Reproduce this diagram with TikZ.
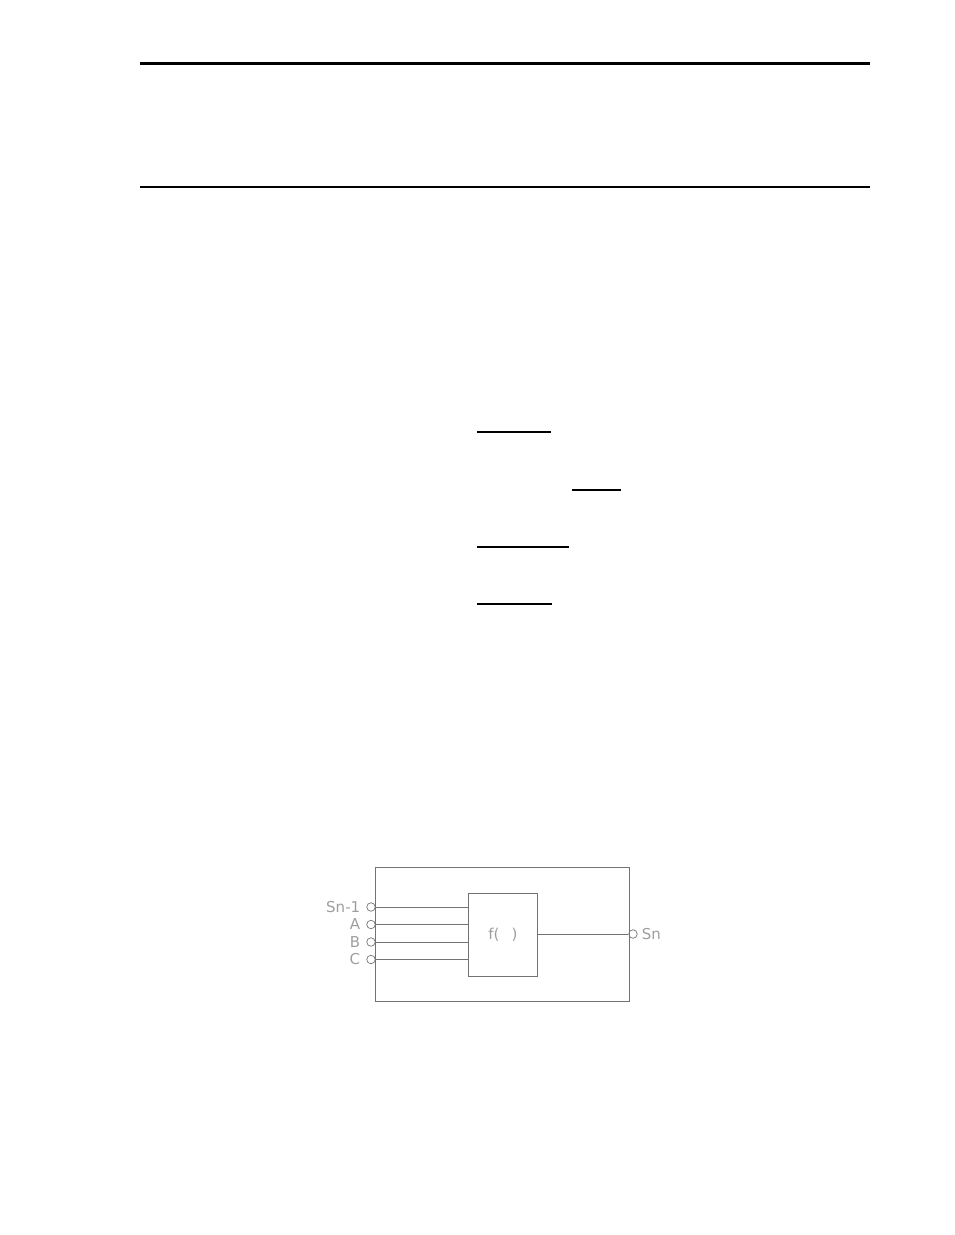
\documentclass[tikz,border=0pt]{standalone}
\usepackage{fontspec}
\setmainfont{DejaVu Sans}
\usetikzlibrary{positioning}
\definecolor{wiregray}{gray}{0.45}
\definecolor{textgray}{gray}{0.62}
\tikzset{
	pin/.style={circle,draw=wiregray,line width=0.7pt,inner sep=0pt,minimum size=8.5pt},
	wire/.style={draw=wiregray,line width=0.8pt},
	pinlabel/.style={textgray,font=\fontsize{15}{15}\selectfont,inner sep=0pt},
}
\begin{document}
\begin{tikzpicture}[x=1pt,y=-1pt]
	\useasboundingbox (0,0) rectangle (954,1235);
	% page rules
	\draw[line width=3pt] (140,63)--(870,63);
	\draw[line width=2.5pt] (140,187)--(870,187);
	\draw[line width=1.3pt] (477,432)--(551,432)
		(572,490)--(621,490)
		(477,547)--(569,547)
		(477,604)--(552,604);

	% block
	\node[wire,anchor=north west,minimum width=254pt,minimum height=134pt] (outer) at (375,867) {};
	\node[wire,anchor=north west,minimum width=69pt,minimum height=83pt,
		text=textgray,font=\fontsize{15}{15}\selectfont] (fbox) at (468,893) {f(\,\ \ )};

	\node[pin,label={[pinlabel,label distance=6pt]left:Sn-1}] (pinS) at (371,907) {};
	\node[pin,label={[pinlabel,label distance=6pt]left:A}] (pinA) at (371,924.5) {};
	\node[pin,label={[pinlabel,label distance=6pt]left:B}] (pinB) at (371,942) {};
	\node[pin,label={[pinlabel,label distance=6pt]left:C}] (pinC) at (371,959.5) {};
	\node[pin,label={[pinlabel,label distance=4pt]right:Sn}] (pinOut) at (633,934) {};

	\foreach \p in {pinS,pinA,pinB,pinC}
		\draw[wire] (\p.east) -- (\p.east -| fbox.west);
	\draw[wire] (fbox.east |- pinOut) -- (pinOut.west);
\end{tikzpicture}
\end{document}
